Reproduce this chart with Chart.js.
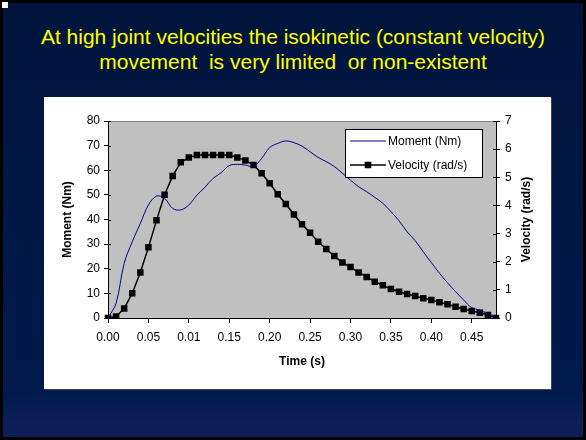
<!DOCTYPE html>
<html>
<head>
<meta charset="utf-8">
<script src="https://cdn.jsdelivr.net/npm/chart.js@4"></script>
<style>
  html, body { margin: 0; padding: 0; background: #000; }
  body { width: 586px; height: 440px; position: relative; overflow: hidden;
    font-family: 'Liberation Sans', Arial, sans-serif; }
  #slide { position: absolute; left: 3px; top: 3px; width: 580px; height: 434px;
    background: linear-gradient(#00143b 0%, #001a4d 90%, #0d1d57 96%, #0e1e58 100%); }
  #mark { position: absolute; left: 2px; top: 2px; width: 6px; height: 6px; background: #fff; }
  #title { position: absolute; left: 0; top: 24px; width: 586px; text-align: center;
    color: #ffff00; font-size: 21px; line-height: 25px; white-space: pre; }
  #panel { position: absolute; left: 44px; top: 97px; width: 507px; height: 292px;
    background: #fff; box-shadow: 1px 1px 0 #444; }
</style>
</head>
<body>
<div id="slide"></div>
<div id="mark"></div>
<div id="title">At high joint velocities the isokinetic (constant velocity)
movement  is very limited  or non-existent</div>
<div id="panel"><canvas id="chart" width="507" height="292"></canvas></div>
<script>
  'use strict';

  // Time categories (the original sheet has "0.01" where 0.10 belongs).
  const timeLabels = [
    '0.00', '0.01', '0.02', '0.03', '0.04', '0.05', '0.06', '0.07', '0.08', '0.09',
    '0.01', '0.11', '0.12', '0.13', '0.14', '0.15', '0.16', '0.17', '0.18', '0.19',
    '0.20', '0.21', '0.22', '0.23', '0.24', '0.25', '0.26', '0.27', '0.28', '0.29',
    '0.30', '0.31', '0.32', '0.33', '0.34', '0.35', '0.36', '0.37', '0.38', '0.39',
    '0.40', '0.41', '0.42', '0.43', '0.44', '0.45', '0.46', '0.47', '0.48',
  ];

  const momentNm = [
    0, 6, 22.2, 31, 38.4, 45.9, 49.5, 48.6, 44.5, 43.9,
    45.9, 49.9, 53.1, 56.7, 59, 61.9, 62.4, 62.1, 61.5, 64.8,
    69.2, 70.9, 71.9, 71.2, 69.8, 67.5, 65.2, 63.5, 61.5, 58.8,
    56, 53.3, 51.3, 49, 46.6, 43.2, 39.5, 35, 31.4, 26.9,
    22.5, 18.2, 14.3, 10.7, 7.3, 4.2, 3.2, 1.8, 0.6,
  ];

  const velocityRad = [
    0, 0.05, 0.34, 0.88, 1.62, 2.51, 3.47, 4.38, 5.05, 5.53,
    5.7, 5.79, 5.79, 5.79, 5.79, 5.79, 5.7, 5.6, 5.44, 5.14,
    4.79, 4.4, 4.05, 3.68, 3.33, 3.03, 2.71, 2.45, 2.2, 1.97,
    1.81, 1.62, 1.46, 1.29, 1.16, 1.03, 0.93, 0.85, 0.78, 0.7,
    0.64, 0.56, 0.49, 0.4, 0.32, 0.25, 0.19, 0.11, 0,
  ];

  const FONT = "'Liberation Sans', Arial, sans-serif";

  // Grey plot area, axis titles, inner tick halves and the boxed legend.
  const excelLook = {
    id: 'excelLook',
    beforeDatasetsDraw: function(chart) {
      const ctx = chart.ctx;
      const a = chart.chartArea;
      ctx.save();
      ctx.strokeStyle = '#808080';
      ctx.lineWidth = 1;
      ctx.beginPath();
      ctx.moveTo(a.left, a.top + 0.5);
      ctx.lineTo(a.right, a.top + 0.5);
      ctx.stroke();
      // inner halves of the cross tick marks
      ctx.strokeStyle = '#000';
      ['y', 'y1'].forEach(function(id) {
        const s = chart.scales[id];
        const x = id === 'y' ? a.left : a.right;
        const dir = id === 'y' ? 1 : -1;
        s.ticks.forEach(function(t) {
          const py = Math.round(s.getPixelForValue(t.value)) + 0.5;
          ctx.beginPath();
          ctx.moveTo(x, py);
          ctx.lineTo(x + dir * 3, py);
          ctx.stroke();
        });
      });
      ctx.restore();
    },
    afterDraw: function(chart) {
      const ctx = chart.ctx;
      const a = chart.chartArea;
      const midY = (a.top + a.bottom) / 2;
      ctx.save();
      ctx.fillStyle = '#000';
      ctx.font = 'bold 12px ' + FONT;
      ctx.textAlign = 'center';
      ctx.textBaseline = 'middle';
      ctx.fillText('Time (s)', (a.left + a.right) / 2, 265);
      [[24, 'Moment (Nm)'], [483, 'Velocity (rad/s)']].forEach(function(p) {
        ctx.save();
        ctx.translate(p[0], midY);
        ctx.rotate(-Math.PI / 2);
        ctx.fillText(p[1], 0, 0);
        ctx.restore();
      });

      // legend box
      const bx = 301, by = 32, bw = 137, bh = 48;
      ctx.fillStyle = '#fff';
      ctx.fillRect(bx, by, bw, bh);
      ctx.strokeStyle = '#000';
      ctx.lineWidth = 1;
      ctx.strokeRect(bx + 0.5, by + 0.5, bw, bh);
      ctx.font = '12px ' + FONT;
      ctx.textAlign = 'left';
      chart.data.datasets.forEach(function(ds, i) {
        const ly = by + 12 + i * 24;
        ctx.strokeStyle = ds.borderColor;
        ctx.lineWidth = ds.borderWidth;
        ctx.beginPath();
        ctx.moveTo(bx + 5, ly);
        ctx.lineTo(bx + 41, ly);
        ctx.stroke();
        if (ds.pointRadius > 0) {
          ctx.fillStyle = ds.pointBackgroundColor;
          ctx.fillRect(bx + 23 - 3.25, ly - 3.25, 6.5, 6.5);
        }
        ctx.fillStyle = '#000';
        ctx.fillText(ds.label, bx + 43, ly + 1);
      });
      ctx.restore();
    },
  };

  const config = {
    type: 'line',
    data: {
      labels: timeLabels,
      datasets: [
        {
          label: 'Moment (Nm)',
          data: momentNm,
          yAxisID: 'y',
          borderColor: '#000080',
          borderWidth: 1,
          pointRadius: 0,
          tension: 0.35,
          fill: false,
        },
        {
          label: 'Velocity (rad/s)',
          data: velocityRad,
          yAxisID: 'y1',
          borderColor: '#000',
          borderWidth: 1.5,
          pointStyle: 'rect',
          pointRadius: 4.6,
          pointBackgroundColor: '#000',
          pointBorderColor: '#000',
          pointBorderWidth: 0,
          tension: 0,
          fill: false,
        },
      ],
    },
    options: {
      responsive: false,
      animation: false,
      layout: { padding: { top: 24, left: 0, right: 0, bottom: 0 } },
      plugins: {
        legend: { display: false },
        tooltip: { enabled: false },
        title: { display: false },
      },
      scales: {
        x: {
          type: 'category',
          offset: false,
          border: { color: '#000', width: 1 },
          grid: {
            drawOnChartArea: false,
            tickLength: 5,
            color: function(c) {
              return c.index % 5 === 0 ? '#000' : 'rgba(0,0,0,0)';
            },
          },
          ticks: {
            autoSkip: false,
            maxRotation: 0,
            padding: 7,
            color: '#000',
            font: { family: FONT, size: 12 },
            callback: function(v, i) {
              return i % 5 === 0 ? timeLabels[i] : '';
            },
          },
          afterFit: function(s) { s.height = 71; },
        },
        y: {
          position: 'left',
          min: 0,
          max: 80,
          border: { color: '#000', width: 1 },
          grid: { drawOnChartArea: false, tickLength: 4, color: '#000' },
          ticks: {
            stepSize: 10,
            padding: 4,
            color: '#000',
            font: { family: FONT, size: 12 },
          },
          afterFit: function(s) { s.width = 64; },
        },
        y1: {
          position: 'right',
          min: 0,
          max: 7,
          border: { color: '#000', width: 1 },
          grid: { drawOnChartArea: false, tickLength: 4, color: '#000' },
          ticks: {
            stepSize: 1,
            padding: 5,
            color: '#000',
            font: { family: FONT, size: 12 },
          },
          afterFit: function(s) { s.width = 55; },
        },
      },
    },
    plugins: [
      excelLook,
      {
        id: 'plotBg',
        beforeDraw: function(chart) {
          const a = chart.chartArea;
          chart.ctx.save();
          chart.ctx.fillStyle = '#c0c0c0';
          chart.ctx.fillRect(a.left, a.top, a.right - a.left, a.bottom - a.top);
          chart.ctx.restore();
        },
      },
    ],
  };

  const chart = new Chart(document.getElementById('chart'), config);
</script>
</body>
</html>
